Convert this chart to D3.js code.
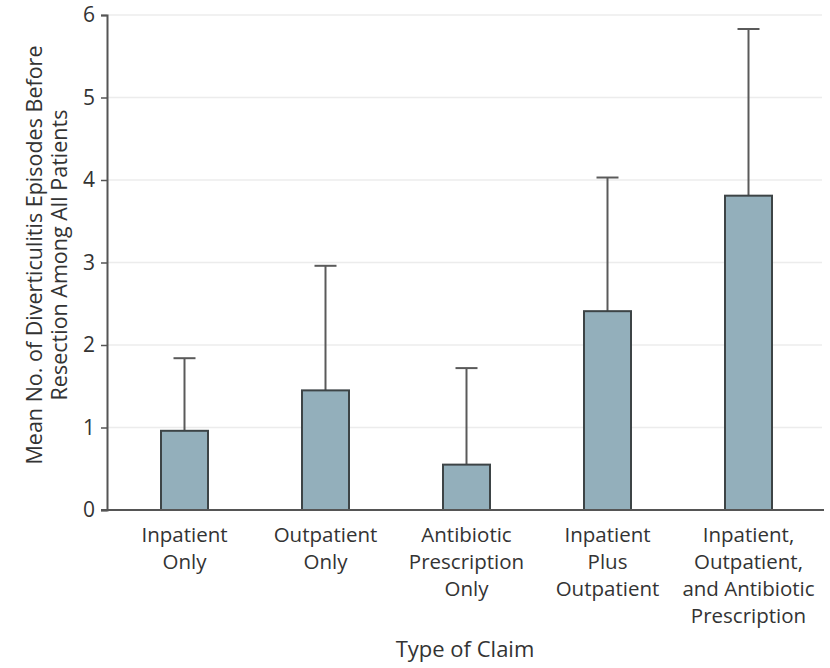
<!DOCTYPE html>
<html>
<head>
<meta charset="utf-8">
<script src="https://cdn.jsdelivr.net/npm/d3@7"></script>
<style>
  html, body { margin: 0; padding: 0; background: #fff; }
  svg text { font-family: "Open Sans", "Noto Sans", sans-serif; fill: #333; font-weight: 500; }
</style>
</head>
<body>
<svg id="chart" width="830" height="668"></svg>
<script>
// Claim types (multi-line labels)
const categories = [
  ["Inpatient", "Only"],
  ["Outpatient", "Only"],
  ["Antibiotic", "Prescription", "Only"],
  ["Inpatient", "Plus", "Outpatient"],
  ["Inpatient,", "Outpatient,", "and Antibiotic", "Prescription"]
];
// Mean episodes and upper end of the error bar
const means = [0.96, 1.45, 0.55, 2.41, 3.81];
const upper = [1.84, 2.96, 1.72, 4.03, 5.83];
const yTicks = [0, 1, 2, 3, 4, 5, 6];

const svg = d3.select("#chart");
const axisX = 107, y0 = 510, yTop = 15;

const x = d3.scaleBand()
  .domain(d3.range(categories.length))
  .range([114, 819])
  .paddingInner(0).paddingOuter(0);
const y = d3.scaleLinear().domain([0, 6]).range([y0, yTop]);
const barW = 47;

// Gridlines
svg.append("g").selectAll("line")
  .data(yTicks.filter(d => d > 0))
  .join("line")
  .attr("x1", axisX).attr("x2", 822)
  .attr("y1", d => y(d)).attr("y2", d => y(d))
  .attr("stroke", "#ececec").attr("stroke-width", 1.5);

// Error bars (upper only)
const eb = svg.append("g");
eb.selectAll("line.stem")
  .data(means)
  .join("line").attr("class", "stem")
  .attr("x1", (d, i) => x(i) + x.bandwidth() / 2)
  .attr("x2", (d, i) => x(i) + x.bandwidth() / 2)
  .attr("y1", d => y(d))
  .attr("y2", (d, i) => y(upper[i]))
  .attr("stroke", "#5a5a5a").attr("stroke-width", 2);
eb.selectAll("line.cap")
  .data(upper)
  .join("line").attr("class", "cap")
  .attr("x1", (d, i) => x(i) + x.bandwidth() / 2 - 11)
  .attr("x2", (d, i) => x(i) + x.bandwidth() / 2 + 11)
  .attr("y1", d => y(d)).attr("y2", d => y(d))
  .attr("stroke", "#5a5a5a").attr("stroke-width", 2);

// Bars
svg.append("g").selectAll("rect")
  .data(means)
  .join("rect")
  .attr("x", (d, i) => x(i) + x.bandwidth() / 2 - barW / 2)
  .attr("width", barW)
  .attr("y", d => y(d))
  .attr("height", d => y0 - y(d))
  .attr("fill", "#93afbb")
  .attr("stroke", "#3d4446").attr("stroke-width", 2);

// Y axis
const yAxis = d3.axisLeft(y).tickValues(yTicks).tickSize(6).tickPadding(6).tickFormat(d3.format("d"));
const gy = svg.append("g").attr("transform", `translate(${axisX},0)`).call(yAxis);
gy.select(".domain").attr("stroke", "#555").attr("stroke-width", 2);
gy.selectAll(".tick line").attr("stroke", "#555").attr("stroke-width", 1.5);
gy.selectAll(".tick text").attr("font-size", 21).attr("font-family", null).style("fill", "#333");

// X axis baseline
svg.append("line")
  .attr("x1", axisX - 6).attr("x2", 824)
  .attr("y1", y0).attr("y2", y0)
  .attr("stroke", "#555").attr("stroke-width", 2);

// Category labels
const lab = svg.append("g").selectAll("text")
  .data(categories)
  .join("text")
  .attr("text-anchor", "middle")
  .attr("font-size", 20.5)
  .attr("x", (d, i) => x(i) + x.bandwidth() / 2)
  .attr("y", 542);
lab.selectAll("tspan")
  .data(d => d)
  .join("tspan")
  .attr("x", function () { return d3.select(this.parentNode).attr("x"); })
  .attr("dy", (d, i) => i === 0 ? 0 : 27)
  .text(d => d);

// Axis titles
svg.append("text")
  .attr("x", 465).attr("y", 657)
  .attr("text-anchor", "middle").attr("font-size", 22)
  .text("Type of Claim");

const yt = svg.append("text")
  .attr("transform", "translate(42,255) rotate(-90)")
  .attr("text-anchor", "middle").attr("font-size", 21.5);
yt.append("tspan").attr("x", 0).attr("dy", 0).text("Mean No. of Diverticulitis Episodes Before");
yt.append("tspan").attr("x", 0).attr("dy", 25).text("Resection Among All Patients");
</script>
</body>
</html>
